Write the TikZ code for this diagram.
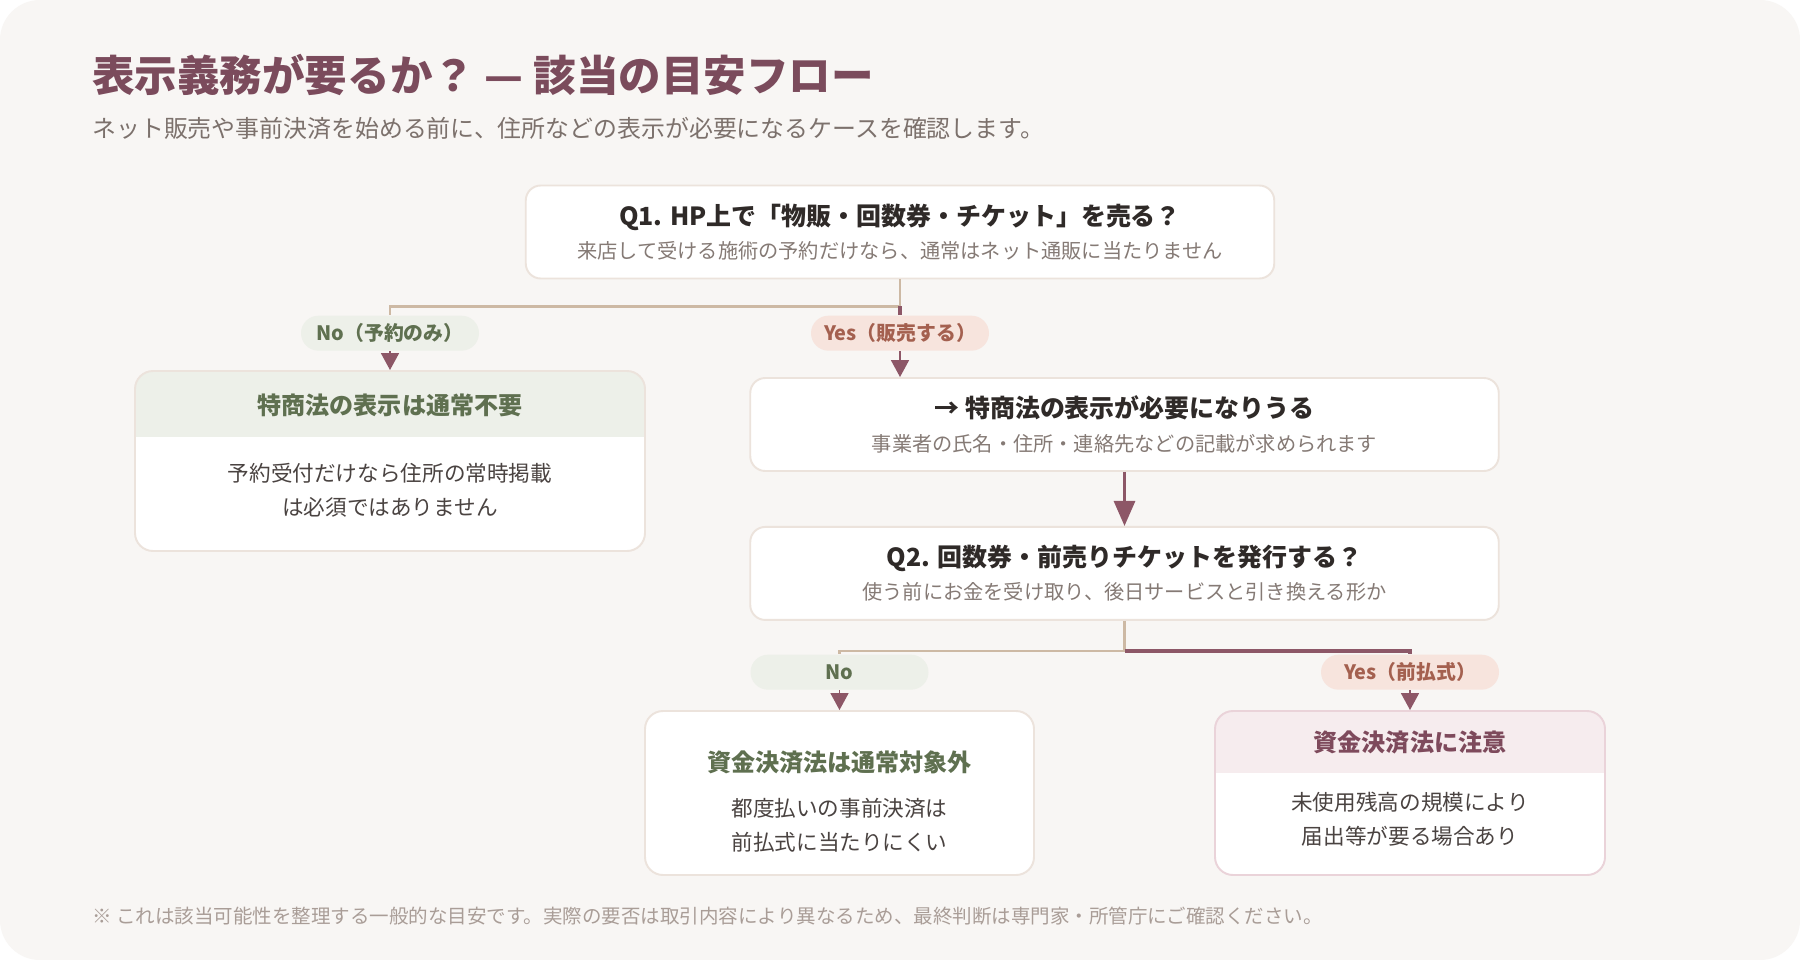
\documentclass[tikz,border=0pt]{standalone}
\usepackage{fontspec}
\setmainfont{Noto Sans CJK JP}
\usetikzlibrary{arrows.meta, positioning, calc}

\definecolor{bgcol}{HTML}{F8F6F4}
\definecolor{cardline}{HTML}{ECE3DC}
\definecolor{tanline}{HTML}{CDB9A4}
\definecolor{maroon}{HTML}{8D5767}
\definecolor{titlecol}{HTML}{7B4B5C}
\definecolor{subcol}{HTML}{7C716C}
\definecolor{qdark}{HTML}{2F2A28}
\definecolor{qgray}{HTML}{857A75}
\definecolor{bodycol}{HTML}{4A4341}
\definecolor{greentxt}{HTML}{5F7050}
\definecolor{greenfill}{HTML}{EDF0E9}
\definecolor{yesfill}{HTML}{F7E4DD}
\definecolor{yestxt}{HTML}{A4604F}
\definecolor{pinkfill}{HTML}{F6ECEE}
\definecolor{pinkline}{HTML}{EAD3D9}
\definecolor{pinktxt}{HTML}{7E4A5C}
\definecolor{notecol}{HTML}{A99D97}

\newcommand{\qtitle}{\fontsize{14.2}{19}\selectfont\bfseries}

\begin{document}
\begin{tikzpicture}[
        qbox/.style={rectangle, draw=cardline, line width=1.1pt, fill=white, rounded corners=0.3cm, minimum width=14.97cm, minimum height=1.86cm, align=center, text=qgray, font=\fontsize{11.5}{19}\selectfont},
        card/.style={rectangle, draw=cardline, line width=1.1pt, fill=white, rounded corners=0.36cm, minimum height=3.28cm},
        hdr/.style 2 args={path picture={\fill[#1, sharp corners] (path picture bounding box.north west) rectangle ([yshift=-#2]path picture bounding box.north east);}},
        cardtitle/.style={font=\fontsize{13.7}{15}\selectfont\bfseries},
        cardbody/.style={align=center, text=bodycol, font=\fontsize{12.3}{19.4}\selectfont},
        pill/.style={rectangle, rounded corners=0.35cm, minimum width=3.56cm, minimum height=0.7cm, inner sep=0pt, font=\fontsize{11.3}{12}\selectfont\bfseries},
        nopill/.style={pill, fill=greenfill, text=greentxt},
        yespill/.style={pill, fill=yesfill, text=yestxt},
        tanflow/.style={draw=tanline, line width=1.4pt},
        yesflow/.style={draw=maroon, line width=2pt},
        arrowtip/.style={draw=maroon, line width=1pt, -{Triangle[length=0.34cm, width=0.36cm]}},
        bigflow/.style={draw=maroon, line width=1.7pt, -{Triangle[length=0.5cm, width=0.42cm]}}
    ]
        % Canvas
        \fill[white] (0,0) rectangle (36,-19.2);
        \fill[bgcol, rounded corners=0.8cm] (0,0) rectangle (36,-19.2);
        \useasboundingbox (0,0) rectangle (36,-19.2);

        % Heading
        \node[anchor=west, inner sep=0pt, text=titlecol, font=\fontsize{24.2}{28}\selectfont\bfseries] (title) at (1.84,-1.5) {表示義務が要るか？ — 該当の目安フロー};
        \node[anchor=west, inner sep=0pt, text=subcol, font=\fontsize{13.6}{15}\selectfont] (subtitle) at (1.84,-2.56) {ネット販売や事前決済を始める前に、住所などの表示が必要になるケースを確認します。};

        % Questions
        \node[qbox] (q1) at (18,-4.64) {\textcolor{qdark}{\qtitle Q1. HP上で「物販・回数券・チケット」を売る？}\\来店して受ける施術の予約だけなら、通常はネット通販に当たりません};
        \node[qbox] (must1) at (22.49,-8.49) {\textcolor{qdark}{\qtitle → 特商法の表示が必要になりうる}\\事業者の氏名・住所・連絡先などの記載が求められます};
        \node[qbox, below=1.08cm of must1] (q2) {\textcolor{qdark}{\qtitle Q2. 回数券・前売りチケットを発行する？}\\使う前にお金を受け取り、後日サービスと引き換える形か};

        % Outcome cards
        \node[card, minimum width=10.2cm, minimum height=3.6cm, hdr={greenfill}{1.32cm}] (card1) at (7.8,-9.22) {};
        \node[cardtitle, text=greentxt] (card1t) at ([yshift=-0.7cm]card1.north) {特商法の表示は通常不要};
        \node[cardbody] (card1b) at ([yshift=-0.58cm]card1.center) {予約受付だけなら住所の常時掲載\\は必須ではありません};

        \node[card, minimum width=7.78cm] (card2) at (16.79,-15.86) {};
        \node[cardtitle, text=greentxt] (card2t) at ([yshift=0.62cm]card2.center) {資金決済法は通常対象外};
        \node[cardbody] (card2b) at ([yshift=-0.64cm]card2.center) {都度払いの事前決済は\\前払式に当たりにくい};

        \node[card, draw=pinkline, minimum width=7.8cm, hdr={pinkfill}{1.24cm}] (card3) at (28.2,-15.86) {};
        \node[cardtitle, text=pinktxt] (card3t) at ([yshift=-0.64cm]card3.north) {資金決済法に注意};
        \node[cardbody] (card3b) at ([yshift=-0.52cm]card3.center) {未使用残高の規模により\\届出等が要る場合あり};

        % Branch labels
        \node[nopill, above=0.38cm of card1] (no1) {No（予約のみ）};
        \node[yespill] (yes1) at (q1.south |- no1) {Yes（販売する）};
        \node[nopill, above=0.4cm of card2] (no2) {No};
        \node[yespill, above=0.4cm of card3] (yes2) {Yes（前払式）};

        % Connectors
        \coordinate (j1) at ($(q1.south |- no1.north)+(0,0.18)$);
        \draw[tanflow] (q1) -- (j1) -| (no1);
        \draw[yesflow] (j1) -- (yes1);
        \draw[arrowtip] (no1) -- (card1);
        \draw[arrowtip] (yes1) -- (yes1 |- must1.north);
        \draw[bigflow] (must1) -- (q2);

        \coordinate[below=0.6cm of q2] (j2);
        \draw[tanflow] (q2) -- (j2) -| (no2);
        \draw[yesflow] (j2) -| (yes2);
        \draw[arrowtip] (no2) -- (card2);
        \draw[arrowtip] (yes2) -- (card3);

        % Note
        \node[anchor=west, inner sep=0pt, text=notecol, font=\fontsize{11.1}{12}\selectfont] (note) at (1.84,-18.32) {※ これは該当可能性を整理する一般的な目安です。実際の要否は取引内容により異なるため、最終判断は専門家・所管庁にご確認ください。};
\end{tikzpicture}
\end{document}
